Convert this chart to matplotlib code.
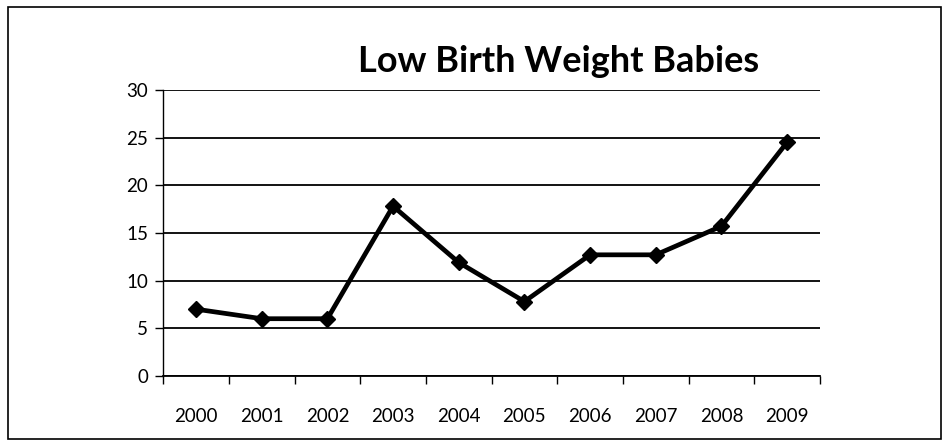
import matplotlib
matplotlib.use("Agg")
import matplotlib.pyplot as plt
from matplotlib.patches import Rectangle

years = ["2000", "2001", "2002", "2003", "2004", "2005", "2006", "2007", "2008", "2009"]
values = [7.0, 6.0, 6.0, 17.8, 11.9, 7.8, 12.7, 12.7, 15.7, 24.5]
yticks = [0, 5, 10, 15, 20, 25, 30]

plt.rcParams['font.family'] = ['Lato', 'DejaVu Sans']

fig = plt.figure(figsize=(9.49, 4.47), dpi=100)
fig.patches.append(Rectangle((0.008, 0.018), 0.984, 0.966, transform=fig.transFigure,
                             fill=False, edgecolor='black', linewidth=1.2))
ax = fig.add_axes([0.172, 0.159, 0.692, 0.640])

x = list(range(len(years)))
ax.plot(x, values, color='black', linewidth=3.4, marker='D', markersize=8.5,
        markerfacecolor='black', markeredgecolor='black', zorder=3)

ax.set_xlim(-0.5, len(years) - 0.5)
ax.set_ylim(0, 30)
ax.set_yticks(yticks)
ax.set_yticklabels([str(v) for v in yticks], fontsize=13.5)
ax.yaxis.grid(True, color='black', linewidth=1.3)
ax.set_axisbelow(True)
ax.tick_params(axis='y', length=6, width=1, direction='out', pad=5)

ax.set_xticks([i - 0.5 for i in range(len(years) + 1)])
ax.set_xticklabels([])
ax.set_xticks(x, minor=True)
ax.set_xticklabels(years, minor=True, fontsize=13.5)
ax.tick_params(axis='x', which='major', length=6, width=1, direction='out')
ax.tick_params(axis='x', which='minor', length=0, pad=23)

for s in ['top', 'right']:
    ax.spines[s].set_visible(False)
ax.spines['left'].set_linewidth(1)
ax.spines['bottom'].set_linewidth(1.3)

fig.text(0.589, 0.862, "Low Birth Weight Babies", fontsize=26, fontweight='bold',
         ha='center', va='center')

fig.savefig("out.png", dpi=100)
